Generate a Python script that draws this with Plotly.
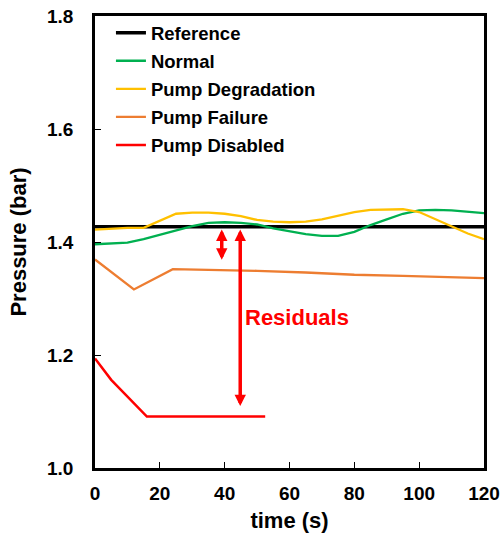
import plotly.graph_objects as go

# ---- data ----
ref_t = [0, 120]
ref_p = [1.427, 1.427]

normal_t = [0, 5, 10, 15, 20, 25, 30, 35, 40, 45, 50, 55, 60, 65, 70, 75, 80, 85, 90, 95, 100, 105, 110, 115, 120]
normal_p = [1.396, 1.397, 1.399, 1.405, 1.413, 1.420, 1.428, 1.434, 1.435, 1.434, 1.431, 1.424, 1.419, 1.414, 1.411, 1.411, 1.418, 1.430, 1.440, 1.450, 1.456, 1.457, 1.456, 1.453, 1.451]

degr_t = [0, 5, 10, 15, 20, 25, 30, 35, 40, 45, 50, 55, 60, 65, 70, 75, 80, 85, 90, 95, 100, 105, 110, 115, 120]
degr_p = [1.422, 1.424, 1.425, 1.425, 1.437, 1.450, 1.452, 1.452, 1.450, 1.446, 1.439, 1.436, 1.435, 1.436, 1.440, 1.446, 1.453, 1.457, 1.458, 1.458, 1.453, 1.440, 1.427, 1.415, 1.405]

fail_t = [0, 12, 24, 35, 50, 65, 80, 95, 110, 120]
fail_p = [1.369, 1.316, 1.352, 1.351, 1.349, 1.346, 1.342, 1.340, 1.337, 1.336]

dis_t = [0, 5, 16, 52.5]
dis_p = [1.194, 1.156, 1.091, 1.091]

names = ["Reference", "Normal", "Pump Degradation", "Pump Failure", "Pump Disabled"]
colors = ["#000000", "#00B050", "#FFC000", "#ED7D31", "#FF0000"]
widths = [3.5, 2.3, 2.3, 2.3, 2.5]
series = [(ref_t, ref_p), (normal_t, normal_p), (degr_t, degr_p), (fail_t, fail_p), (dis_t, dis_p)]

# residual arrows: (time, top, bottom)
arrows = [(39.1, 1.422, 1.366), (44.8, 1.422, 1.107)]
resid_label = ("Residuals", 45.6, 1.266)

FONT = "Liberation Sans, Arial, sans-serif"

fig = go.Figure()
for i, (n, c, w, (t, p)) in enumerate(zip(names, colors, widths, series)):
    fig.add_trace(go.Scatter(x=t, y=p, mode="lines", name=n, legendgroup=n,
                             line=dict(color=c, width=w)))

for t, top, bot in arrows:
    fig.add_annotation(x=t, y=top, ax=t, ay=bot, xref="x", yref="y", axref="x", ayref="y",
                       text="", showarrow=True, arrowhead=2, arrowside="end+start",
                       arrowsize=0.65, arrowwidth=3.5, arrowcolor="#FF0000")

fig.add_annotation(x=resid_label[1], y=resid_label[2], xref="x", yref="y", text=resid_label[0],
                   showarrow=False, xanchor="left", yanchor="middle",
                   font=dict(family=FONT, size=22, color="#FF0000", weight="bold"))

fig.update_layout(
    width=502, height=537,
    margin=dict(l=95, r=18, t=16, b=69),
    paper_bgcolor="white", plot_bgcolor="white",
    showlegend=True,
    legend=dict(x=0.041, y=1.004, xanchor="left", yanchor="top", bgcolor="rgba(0,0,0,0)",
                font=dict(family=FONT, size=18.5, color="black", weight="bold"),
                tracegroupgap=1, itemwidth=30),
    font=dict(family=FONT, color="black"),
)
fig.update_xaxes(range=[0, 120], tickvals=[0, 20, 40, 60, 80, 100, 120], automargin=False,
                 showgrid=False, zeroline=False, showline=True, linecolor="black", linewidth=2.5,
                 mirror=True, ticks="inside", ticklen=6, tickwidth=1, tickcolor="black",
                 ticklabelstandoff=6,
                 tickfont=dict(family=FONT, size=19, color="black", weight="bold"),
                 title=dict(text="time (s)", standoff=11,
                            font=dict(family=FONT, size=22, color="black", weight="bold")))
fig.update_yaxes(range=[1.0, 1.8], tickvals=[1.0, 1.2, 1.4, 1.6, 1.8], tickformat=".1f", automargin=False,
                 showgrid=False, zeroline=False, showline=True, linecolor="black", linewidth=2.5,
                 mirror=True, ticks="inside", ticklen=6, tickwidth=1, tickcolor="black",
                 ticklabelstandoff=15,
                 tickfont=dict(family=FONT, size=19, color="black", weight="bold"),
                 title=dict(text="Pressure (bar)", standoff=15,
                            font=dict(family=FONT, size=22, color="black", weight="bold")))

fig.write_html("out.html")
